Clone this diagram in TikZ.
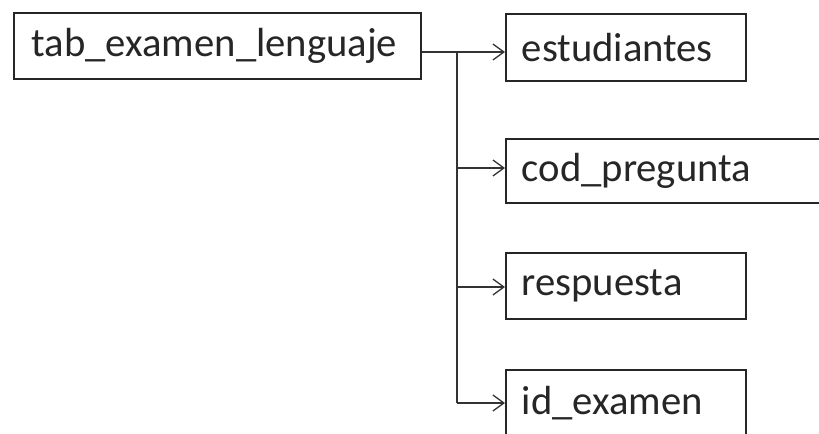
\documentclass[tikz,border=0pt]{standalone}
\usepackage{fontspec}
\setmainfont{Carlito}
\usetikzlibrary{arrows.meta}
\begin{document}
\begin{tikzpicture}[x=0.75pt,y=-0.75pt,
  box/.style={draw=black!85, line width=1.5pt*0.75, anchor=north west, inner xsep=18*0.75pt, inner ysep=0pt,
    align=left, font=\fontsize{30.5}{32}\selectfont, text=black!85},
  conn/.style={draw=black!80, line width=1.6pt*0.75},
  arr/.style={conn, -{Straight Barb[length=11*0.75pt, width=16*0.75pt, line width=1.3pt*0.75]}}]
\useasboundingbox (0,0) rectangle (819,433);
\clip (0,0) rectangle (819,433);
\fill[white] (0,0) rectangle (819,433);
\node[box, minimum height=66*0.75pt, text width=(407-36)*0.75pt] (main) at (13,12) {tab\_examen\_lenguaje};
\node[box, minimum height=67*0.75pt, text width=(244-36)*0.75pt, inner xsep=16*0.75pt] (est) at (505,13) {estudiantes};
\node[box, minimum height=64*0.75pt, text width=(330-36)*0.75pt, inner xsep=16*0.75pt] (cod) at (505,138) {cod\_pregunta};
\node[box, minimum height=66*0.75pt, text width=(244-36)*0.75pt, inner xsep=16*0.75pt] (resp) at (505,252) {respuesta};
\node[box, minimum height=66*0.75pt, text width=(244-36)*0.75pt, inner xsep=16*0.75pt] (idx) at (505,369) {id\_examen};
\coordinate (t0) at (457,52);
\coordinate (t1) at (457,168);
\coordinate (t2) at (457,287);
\coordinate (t3) at (457,403);
\draw[arr] (t0 -| main.east) -- (t0 -| est.west);
\draw[conn] (t0) -- (t3);
\draw[arr] (t1) -- (t1 -| cod.west);
\draw[arr] (t2) -- (t2 -| resp.west);
\draw[arr] (t3) -- (t3 -| idx.west);
\end{tikzpicture}
\end{document}
